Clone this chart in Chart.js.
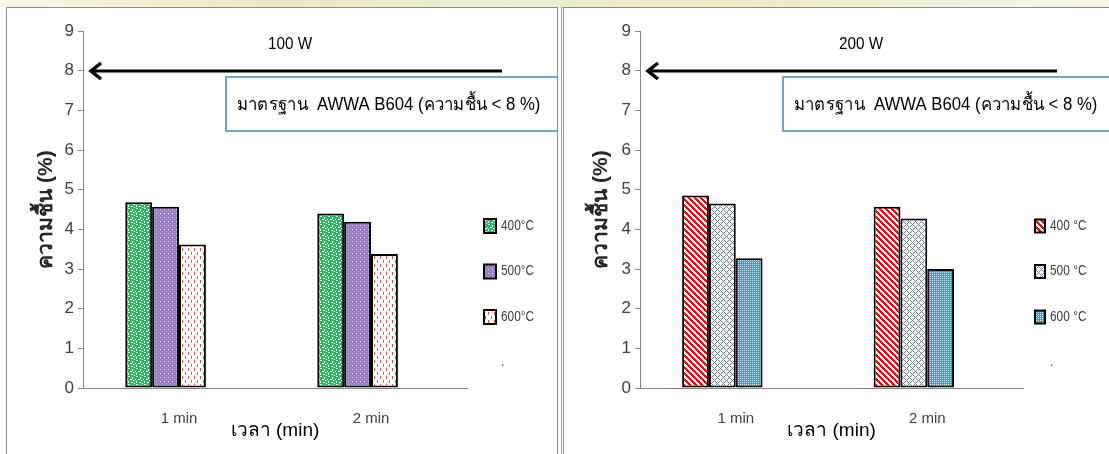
<!DOCTYPE html>
<html>
<head>
<meta charset="utf-8">
<script src="https://cdn.jsdelivr.net/npm/chart.js@4.4.0/dist/chart.umd.min.js"></script>
<style>
  body { margin: 0; width: 1109px; height: 454px; overflow: hidden; background: #fff; position: relative; }
  .strip { position: absolute; left: 0; top: 0; width: 1109px; height: 7px;
    background: linear-gradient(90deg, #f7f5e6, #efe8c4 25%, #e9efd6 45%, #f1e9c2 65%, #eef2dc 85%, #f7f5e6); }
  #panel1 { position: absolute; left: 6px; top: 7px; width: 550px; height: 460px; border: 1px solid #8c8c8c; border-bottom: none; }
  #panel2 { position: absolute; left: 561px; top: 7px; width: 560px; height: 460px; border-left: 3px double #9a9a9a; border-top: 1px solid #8c8c8c; }
  #panel1 canvas, #panel2 canvas { position: absolute; left: 0; top: 0; }
</style>
</head>
<body>
<div class="strip"></div>
<div id="panel1"><canvas id="chart100"></canvas></div>
<div id="panel2"><canvas id="chart200"></canvas></div>
<script>
// data
const categories = ["1 min", "2 min"];
const labels100 = ["400°C", "500°C", "600°C", "."];
const labels200 = ["400 °C", "500 °C", "600 °C", "."];
const moist100_400 = [4.68, 4.40];
const moist100_500 = [4.57, 4.19];
const moist100_600 = [3.62, 3.38];
const moist200_400 = [4.85, 4.57];
const moist200_500 = [4.65, 4.27];
const moist200_600 = [3.27, 3.00];
// the 4th series of the original sheet is empty (legend shows only ".")
const blankSeries = [null, null];
const yMin = 0, yMax = 9, yStep = 1;
const standardLimit = 8;
const powerTitles = ["100 W", "200 W"];
const standardText = "มาตรฐาน  AWWA B604 (ความชื้น < 8 %)";
const yTitle = "ความชื้น (%)";
const xTitle = "เวลา (min)";

const FONT = "'Liberation Sans', 'Noto Sans', sans-serif";
Chart.defaults.font.family = FONT;

function makePattern(w, h, draw) {
  const c = document.createElement("canvas");
  c.width = w; c.height = h;
  const g = c.getContext("2d");
  draw(g, w, h);
  return g.createPattern(c, "repeat");
}
function eachPixel(g, w, h, fn) {
  for (let y = 0; y < h; y++) for (let x = 0; x < w; x++) {
    const col = fn(x, y);
    if (col) { g.fillStyle = col; g.fillRect(x, y, 1, 1); }
  }
}

const greenConfetti = makePattern(8, 8, (g, w, h) => {
  g.fillStyle = "#27b862"; g.fillRect(0, 0, w, h);
  g.fillStyle = "#ffffff";
  [[1,0,2,1],[5,1,1,2],[0,3,1,1],[3,3,2,1],[6,4,2,1],[1,5,1,2],[4,6,2,1],[7,7,1,1]]
    .forEach(r => g.fillRect(r[0], r[1], r[2], r[3]));
});
const purpleDots = makePattern(4, 4, (g, w, h) => {
  g.fillStyle = "#9a7fc8"; g.fillRect(0, 0, w, h);
  g.fillStyle = "#e6dcf4"; g.fillRect(1, 1, 1, 1);
  g.fillStyle = "#b9a6dc"; g.fillRect(3, 3, 1, 1);
});
const redDashes = makePattern(6, 8, (g, w, h) => {
  g.fillStyle = "#ffffff"; g.fillRect(0, 0, w, h);
  g.fillStyle = "#ff4a4a";
  g.fillRect(1, 0, 1, 3);
  g.fillRect(4, 4, 1, 3);
});
const redDiagonal = makePattern(6, 6, (g, w, h) => {
  eachPixel(g, w, h, (x, y) => ((x - y + 6) % 6) < 3 ? "#ff0000" : "#ffffff");
});
const blueCross = makePattern(6, 6, (g, w, h) => {
  eachPixel(g, w, h, (x, y) => ((x + y) % 6 === 0 || (x - y + 6) % 6 === 0) ? "#6a7fa6" : "#ffffff");
});
const tealDots = makePattern(2, 2, (g, w, h) => {
  eachPixel(g, w, h, (x, y) => (x === 0 && y === 0) ? "#cdebf2" : "#3f9db4");
});

// text squeezed sideways, the source used a narrow face
function narrowText(ctx, text, x, y, sx) {
  ctx.save();
  ctx.translate(x, y);
  ctx.scale(sx, 1);
  ctx.fillText(text, 0, 0);
  ctx.restore();
}

// arrow at 8 %, power title and the standard note box
const standardPlugin = {
  id: "standardNote",
  afterDraw(chart, args, opts) {
    const { ctx, chartArea, scales: { y } } = chart;
    const yLine = Math.round(y.getPixelForValue(standardLimit));
    const x0 = chartArea.left + opts.arrowFrom;
    const x1 = chartArea.left + opts.arrowTo;
    ctx.save();
    ctx.strokeStyle = "#000";
    ctx.lineWidth = 3;
    ctx.beginPath();
    ctx.moveTo(x1, yLine);
    ctx.lineTo(x0 + 2, yLine);
    ctx.stroke();
    ctx.lineWidth = 3.5;
    ctx.lineJoin = "miter";
    ctx.beginPath();
    ctx.moveTo(x0 + 11, yLine - 8);
    ctx.lineTo(x0 + 1, yLine);
    ctx.lineTo(x0 + 11, yLine + 8);
    ctx.stroke();

    ctx.fillStyle = "#000";
    ctx.font = "17px " + FONT;
    ctx.textAlign = "center";
    ctx.textBaseline = "middle";
    narrowText(ctx, opts.title, chartArea.left + opts.titleX, y.getPixelForValue(yMax) + 13, 0.9);

    const bx = chartArea.left + opts.boxX;
    const by = yLine + 6;
    ctx.fillStyle = "#fff";
    ctx.fillRect(bx, by, opts.boxW, 54);
    ctx.strokeStyle = "#4f81bd";
    ctx.lineWidth = 1.5;
    ctx.strokeRect(bx, by, opts.boxW, 54);
    ctx.fillStyle = "#000";
    ctx.font = "18px " + FONT;
    ctx.textAlign = "left";
    narrowText(ctx, standardText, bx + 11, by + 28, 0.93);
    ctx.restore();
  }
};

// legend drawn at the right, spread out as in the picture
const sideLegend = {
  id: "sideLegend",
  afterDraw(chart, args, opts) {
    const { ctx } = chart;
    ctx.save();
    ctx.font = "14px " + FONT;
    ctx.textBaseline = "middle";
    ctx.textAlign = "left";
    chart.data.datasets.forEach((ds, i) => {
      const cy = opts.top + i * opts.gap;
      if (ds.borderWidth > 0) {
        ctx.fillStyle = ds.backgroundColor;
        ctx.fillRect(opts.x, cy - opts.boxH / 2, opts.boxW, opts.boxH);
        ctx.strokeStyle = "#000";
        ctx.lineWidth = 2;
        ctx.strokeRect(opts.x, cy - opts.boxH / 2, opts.boxW, opts.boxH);
      }
      ctx.fillStyle = "#404040";
      narrowText(ctx, ds.label, opts.x + opts.boxW + 5, cy, 0.85);
    });
    ctx.restore();
  }
};

function buildChart(id, w, labels, series, patterns, note, legend, yTitlePad, padRight) {
  const canvas = document.getElementById(id);
  canvas.width = w; canvas.height = 446;
  canvas.style.width = w + "px"; canvas.style.height = "446px";
  return new Chart(canvas, {
    type: "bar",
    data: {
      labels: categories,
      datasets: series.map((vals, i) => ({
        label: labels[i],
        data: vals,
        backgroundColor: patterns[i] || "transparent",
        borderColor: "#000",
        borderWidth: patterns[i] ? 2 : 0,
        borderSkipped: false,
        categoryPercentage: 0.56,
        barPercentage: 1.0,
      })),
    },
    options: {
      responsive: false,
      animation: false,
      layout: { padding: { top: 23, right: padRight, left: 0, bottom: 0 } },
      plugins: {
        legend: { display: false },
        tooltip: { enabled: false },
        standardNote: note,
        sideLegend: legend,
      },
      scales: {
        x: {
          grid: { display: false, drawTicks: false },
          border: { display: true, color: "#868686", width: 1 },
          ticks: { color: "#404040", font: { size: 15 }, padding: 22 },
          title: { display: true, text: xTitle, color: "#000", font: { size: 19 }, padding: { top: 0, bottom: 12 } },
          afterFit(s) { s.height = 66; },
        },
        y: {
          min: yMin,
          max: yMax,
          ticks: { stepSize: yStep, color: "#404040", font: { size: 17 }, padding: 4 },
          grid: { display: true, drawOnChartArea: false, drawTicks: true, tickLength: 5, color: "#868686" },
          border: { display: true, color: "#868686", width: 1 },
          title: { display: true, text: yTitle, color: "#262626", font: { size: 21, weight: "bold" }, padding: { top: yTitlePad, bottom: 0 } },
          afterFit(s) { s.width = 76; },
        },
      },
    },
    plugins: [standardPlugin, sideLegend],
  });
}

buildChart("chart100", 550, labels100,
  [moist100_400, moist100_500, moist100_600, blankSeries],
  [greenConfetti, purpleDots, redDashes, null],
  { title: powerTitles[0], titleX: 207, arrowFrom: 7, arrowTo: 419, boxX: 143, boxW: 340 },
  { x: 477, top: 218, gap: 45.5, boxW: 12, boxH: 14 },
  27, 90);

buildChart("chart200", 545, labels200,
  [moist200_400, moist200_500, moist200_600, blankSeries],
  [redDiagonal, blueCross, tealDots, null],
  { title: powerTitles[1], titleX: 221, arrowFrom: 7, arrowTo: 417, boxX: 143, boxW: 360 },
  { x: 471, top: 218, gap: 45.5, boxW: 10, boxH: 13 },
  25, 86);
</script>
</body>
</html>
